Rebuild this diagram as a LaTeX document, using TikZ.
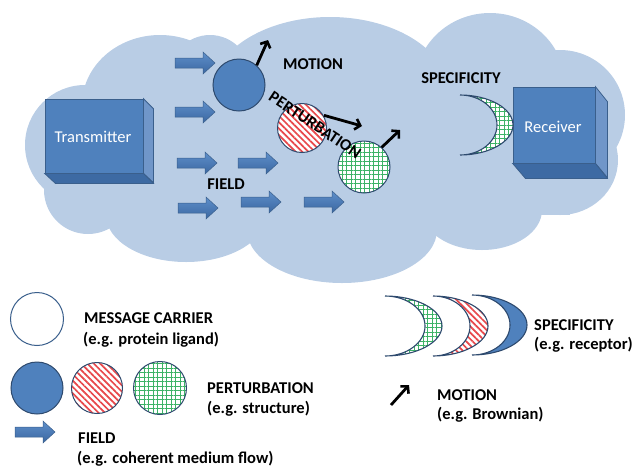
\documentclass[tikz,border=0pt]{standalone}
\usepackage{fontspec}
\setmainfont{Carlito}
\usetikzlibrary{arrows.meta,patterns.meta}
\definecolor{cloudblue}{HTML}{B9CDE5}
\definecolor{boxfront}{HTML}{4F81BD}
\definecolor{boxside}{HTML}{7096C9}
\definecolor{boxbottom}{HTML}{3D6AA3}
\definecolor{boxedge}{HTML}{3A5F8C}
\definecolor{arrtop}{HTML}{5E8FCB}
\definecolor{arrbot}{HTML}{3B67A0}
\definecolor{darkrim}{HTML}{2E4A6E}
\definecolor{stripered}{HTML}{E8474A}
\definecolor{gridgreen}{HTML}{3DB366}
\tikzset{
  lbl/.style={font=\fontsize{16.5}{19}\selectfont\bfseries, inner sep=0pt},
  legtxt/.style={lbl, anchor=base west},
  boxlbl/.style={font=\fontsize{16.5}{19}\selectfont, text=white, inner sep=0pt},
  cube/.style={draw=boxedge, fill=boxfront, line width=0.8pt},
  ball/.style={circle, inner sep=0pt, minimum size=51pt, draw=darkrim, line width=1pt},
  solidball/.style={ball, fill=boxfront},
  redfill/.style={preaction={fill=white}, pattern={Lines[angle=-45,distance=4.5pt,line width=1.7pt]}, pattern color=stripered},
  greenfill/.style={preaction={fill=white}, pattern={Hatch[angle=0,distance=4.5pt,line width=0.7pt]}, pattern color=gridgreen},
  redball/.style={ball, redfill},
  greenball/.style={ball, greenfill},
  motion/.style={line width=2.8pt, -{Straight Barb[length=5pt,width=11pt,line width=2.6pt]}},
  fieldarr/.pic={\path[draw=boxedge, line width=0.5pt, top color=arrtop, bottom color=arrbot]
     (-20,-5) -- (8,-5) -- (8,-11) -- (20,0) -- (8,11) -- (8,5) -- (-20,5) -- cycle;},
  cresc/.style n args={5}{insert path={(#1,{#2-#3})
     .. controls ({#1+0.55*#4},{#2-#3}) and ({#1+#4},{#2-0.55*#3}) .. ({#1+#4},#2)
     .. controls ({#1+#4},{#2+0.55*#3}) and ({#1+0.55*#4},{#2+#3}) .. (#1,{#2+#3})
     .. controls ({#1+0.55*#5},{#2+#3}) and ({#1+#5},{#2+0.55*#3}) .. ({#1+#5},#2)
     .. controls ({#1+#5},{#2-0.55*#3}) and ({#1+0.55*#5},{#2-#3}) .. (#1,{#2-#3}) -- cycle}},
  crescedge/.style={draw=darkrim, line width=1.1pt},
  cloudpart/.style={fill=cloudblue},
}
\begin{document}
\begin{tikzpicture}[x=1pt,y=-1pt]
\useasboundingbox (0,0) rectangle (635,467);
% cloud
\fill[cloudpart] (90,85) rectangle (570,215);
\fill[cloudpart] (160,105) ellipse[x radius=78, y radius=70];
\fill[cloudpart] (210,75) circle[radius=40];
\fill[cloudpart] (330,95) ellipse[x radius=120, y radius=78];
\fill[cloudpart] (490,85) ellipse[x radius=75, y radius=72];
\fill[cloudpart] (560,115) circle[radius=65];
\fill[cloudpart] (560,160) ellipse[x radius=58, y radius=55];
\fill[cloudpart] (482,210) ellipse[x radius=60, y radius=40];
\fill[cloudpart] (342,230) ellipse[x radius=95, y radius=53];
\fill[cloudpart] (186,215) ellipse[x radius=80, y radius=47];
\fill[cloudpart] (88,190) circle[radius=44];
\fill[cloudpart] (85,145) circle[radius=60];
% transmitter
\node[cube, minimum width=98pt, minimum height=74pt] (tx) at (94,136) {};
\fill[boxside, draw=boxedge, line width=0.8pt] (tx.north east) -- ++(10,10) -- ++(0,74) -- (tx.south east) -- cycle;
\fill[boxbottom, draw=boxedge, line width=0.8pt] (tx.south west) -- (tx.south east) -- ++(10,10) -- ++(-98,0) -- cycle;
\node[boxlbl] (txl) at (93,137) {Transmitter};
% receiver
\node[cube, minimum width=82pt, minimum height=76pt] (rx) at (554,125) {};
\fill[boxside, draw=boxedge, line width=0.8pt] (rx.north east) -- ++(12,15) -- ++(0,76) -- (rx.south east) -- cycle;
\fill[boxbottom, draw=boxedge, line width=0.8pt] (rx.south west) -- (rx.south east) -- ++(12,15) -- ++(-82,0) -- cycle;
\node[boxlbl] (rxl) at (553,127) {Receiver};
% field arrows
\pic at (195,63) {fieldarr};
\pic at (195,112) {fieldarr};
\pic at (197,163) {fieldarr};
\pic at (258,163) {fieldarr};
\pic at (198,208) {fieldarr};
\pic at (261,202) {fieldarr};
\pic at (324,202) {fieldarr};
% carriers
\node[solidball, minimum size=52pt] (bc) at (239,85) {};
\node[redball, minimum size=49pt] (rc) at (302,128) {};
\node[greenball, minimum size=52pt] (gc) at (364,167) {};
% receptor
\path[cresc={460}{125}{30}{53}{37}, greenfill, crescedge];
% labels
\node[lbl] (tmotion) at (313,64) {MOTION};
\node[lbl] (tspec) at (461,78) {SPECIFICITY};
\node[lbl] (tfield) at (226,184) {FIELD};
\node[lbl, rotate=-33.7] (tpert) at (315,125) {PERTURBATION};
% motion arrows
\coordinate (m1) at (268,40);
\coordinate (m2) at (362,126);
\coordinate (m3) at (400,130);
\draw[motion] (bc.48) -- (m1);
\draw[motion] (rc.30) -- (m2);
\draw[motion] (gc.48) -- (m3);
% legend
\node[ball, fill=white, draw=boxedge, minimum size=53pt] (lmc) at (37,319) {};
\node[solidball, minimum size=52pt] (lb) at (37,388) {};
\node[redball] (lr) at (97,388) {};
\node[greenball, minimum size=53pt] (lg) at (160,388) {};
\pic at (35,432) {fieldarr};
\path[cresc={385}{326}{30}{57}{40}, greenfill, crescedge];
\path[cresc={433}{326}{30}{55}{37}, redfill, crescedge];
\path[cresc={472}{325}{30}{55}{38}, fill=boxfront, crescedge];
\coordinate (lma) at (391,405);
\coordinate (lmb) at (409,385);
\draw[motion] (lma) -- (lmb);
\node[legtxt] (l1a) at (84,323) {MESSAGE CARRIER};
\node[legtxt] (l1b) at (83,344) {(e.g. protein ligand)};
\node[legtxt] (l2a) at (207,393) {PERTURBATION};
\node[legtxt] (l2b) at (207,413) {(e.g. structure)};
\node[legtxt] (l3a) at (78,443) {FIELD};
\node[legtxt] (l3b) at (77,463) {(e.g. coherent medium flow)};
\node[legtxt] (l4a) at (534,330) {SPECIFICITY};
\node[legtxt] (l4b) at (534,349) {(e.g. receptor)};
\node[legtxt] (l5a) at (437,400) {MOTION};
\node[legtxt] (l5b) at (437,419) {(e.g. Brownian)};
\end{tikzpicture}
\end{document}
